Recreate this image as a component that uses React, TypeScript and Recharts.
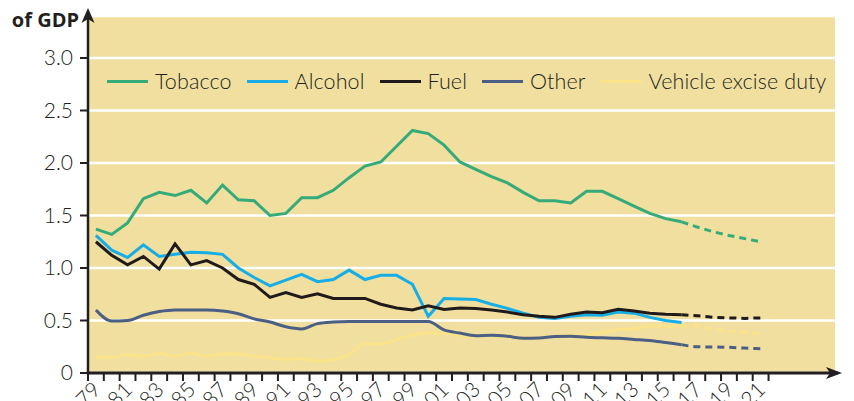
import { CartesianGrid, Legend, Line, LineChart, XAxis, YAxis } from "recharts";

// Fiscal years by starting calendar year (1978 = 1978–79)
const years = [
  1978, 1979, 1980, 1981, 1982, 1983, 1984, 1985, 1986, 1987, 1988, 1989, 1990, 1991, 1992,
  1993, 1994, 1995, 1996, 1997, 1998, 1999, 2000, 2001, 2002, 2003, 2004, 2005, 2006, 2007,
  2008, 2009, 2010, 2011, 2012, 2013, 2014, 2015, 2016, 2017, 2018, 2019, 2020,
];

// Outturns, 1978–79 to 2015–16 (% of GDP)
const tobacco = [
  1.37, 1.32, 1.43, 1.66, 1.72, 1.69, 1.74, 1.62, 1.79, 1.65, 1.64, 1.5, 1.52, 1.67, 1.67, 1.74,
  1.86, 1.97, 2.01, 2.16, 2.31, 2.28, 2.17, 2.01, 1.94, 1.87, 1.81, 1.72, 1.64, 1.64, 1.62, 1.73,
  1.73, 1.66, 1.59, 1.52, 1.47, 1.44,
];
const alcohol = [
  1.31, 1.17, 1.1, 1.22, 1.11, 1.13, 1.15, 1.145, 1.13, 1.0, 0.91, 0.83, 0.885, 0.94, 0.87, 0.89,
  0.98, 0.89, 0.93, 0.93, 0.845, 0.54, 0.71, 0.705, 0.7, 0.655, 0.615, 0.57, 0.53, 0.52, 0.54,
  0.555, 0.55, 0.58, 0.57, 0.53, 0.5, 0.48,
];
const fuel = [
  1.25, 1.12, 1.03, 1.11, 0.99, 1.23, 1.03, 1.07, 1.0, 0.89, 0.845, 0.72, 0.765, 0.72, 0.755, 0.71,
  0.71, 0.71, 0.655, 0.62, 0.6, 0.64, 0.605, 0.62, 0.615, 0.6, 0.58, 0.555, 0.54, 0.53, 0.56, 0.58,
  0.575, 0.607, 0.59, 0.57, 0.56, 0.555,
];
const other = [
  0.6, 0.495, 0.5, 0.55, 0.585, 0.6, 0.6, 0.6, 0.59, 0.565, 0.515, 0.485, 0.44, 0.42, 0.47, 0.485,
  0.49, 0.49, 0.49, 0.49, 0.49, 0.49, 0.41, 0.38, 0.355, 0.36, 0.35, 0.33, 0.333, 0.347, 0.35,
  0.34, 0.335, 0.33, 0.32, 0.31, 0.29, 0.27,
];
const vehicleDuty = [
  0.15, 0.15, 0.175, 0.16, 0.185, 0.16, 0.19, 0.16, 0.18, 0.18, 0.16, 0.145, 0.13, 0.137, 0.115,
  0.127, 0.175, 0.28, 0.275, 0.32, 0.36, 0.38, 0.378, 0.36, 0.35, 0.358, 0.35, 0.335, 0.337, 0.35,
  0.36, 0.365, 0.385, 0.415, 0.42, 0.445, 0.445, 0.448,
];

// Forecasts, 2015–16 to 2020–21
const projectionFrom = 2015;
const tobaccoForecast = [1.44, 1.39, 1.345, 1.31, 1.28, 1.25];
const fuelForecast = [0.555, 0.545, 0.53, 0.525, 0.52, 0.525];
const otherForecast = [0.27, 0.25, 0.248, 0.245, 0.237, 0.232];
const vehicleForecast = [0.448, 0.447, 0.42, 0.4, 0.385, 0.375];

const yTicks = [0, 0.5, 1, 1.5, 2, 2.5, 3];

const W = 846;
const H = 393;
const MARGIN = { top: 8, right: 19, bottom: 0, left: 0 };
const Y_AXIS_W = 80;
const X_AXIS_H = 28;
const X_DOMAIN: [number, number] = [1977.5, 2024.7];
const STEP = (W - MARGIN.right - Y_AXIS_W) / (X_DOMAIN[1] - X_DOMAIN[0]);

const INK = "#231F20";
const PLOT_BG = "#F0DF9F";
const FONT = "Lato, 'Open Sans', sans-serif";

type Series = {
  key: string;
  name: string;
  color: string;
  curve: "linear" | "monotone";
  values: number[];
  forecast?: number[];
};

// drawing order: first is bottom-most
const series: Series[] = [
  { key: "vehicle", name: "Vehicle excise duty", color: "#FBE389", curve: "monotone", values: vehicleDuty, forecast: vehicleForecast },
  { key: "other", name: "Other", color: "#4B5F85", curve: "monotone", values: other, forecast: otherForecast },
  { key: "alcohol", name: "Alcohol", color: "#17ADE6", curve: "linear", values: alcohol },
  { key: "fuel", name: "Fuel", color: "#201B1A", curve: "linear", values: fuel, forecast: fuelForecast },
  { key: "tobacco", name: "Tobacco", color: "#36AB7A", curve: "linear", values: tobacco, forecast: tobaccoForecast },
];
const legendOrder = ["Tobacco", "Alcohol", "Fuel", "Other", "Vehicle excise duty"];

const projStart = years.indexOf(projectionFrom);
const rows = years.map((year, i) => {
  const row: Record<string, number | undefined> = { year };
  for (const s of series) {
    row[s.key] = s.values[i];
    if (s.forecast && i >= projStart) row[s.key + "Fc"] = s.forecast[i - projStart];
  }
  return row;
});

// tick marks sit between fiscal years
const xTicks = [...years.map((y) => y - 0.5), years[years.length - 1] + 0.5];

const fiscalLabel = (y: number) => `${y}–${String((y + 1) % 100).padStart(2, "0")}`;

function YearTick(props: any) {
  const { x, y, payload } = props;
  const start = payload.value + 0.5;
  if (start % 2 !== 0 || start > years[years.length - 1]) return <g />;
  const ax = x + STEP / 2 + 6;
  const ay = y + 8;
  return (
    <text
      x={ax}
      y={ay}
      transform={`rotate(-45 ${ax} ${ay})`}
      textAnchor="end"
      fontFamily={FONT}
      fontWeight={300}
      fontSize={21}
      fill={INK}
    >
      {fiscalLabel(start)}
    </text>
  );
}

function LegendRow({ payload }: any) {
  const items = [...(payload ?? [])]
    .filter((p: any) => legendOrder.includes(p.value))
    .sort((a: any, b: any) => legendOrder.indexOf(a.value) - legendOrder.indexOf(b.value));
  return (
    <div
      style={{
        display: "flex",
        alignItems: "center",
        fontFamily: FONT,
        fontWeight: 300,
        fontSize: 21.5,
        letterSpacing: 0.1,
        color: INK,
        whiteSpace: "nowrap",
      }}
    >
      {items.map((p: any) => (
        <div key={p.value} style={{ display: "flex", alignItems: "center", marginRight: 15 }}>
          <div style={{ width: 41, height: 3, background: p.color }} />
          <span style={{ marginLeft: 7, lineHeight: "24px" }}>{p.value}</span>
        </div>
      ))}
    </div>
  );
}

// axis arrowheads and the unit label above the value axis
function AxisDecor() {
  const x0 = Y_AXIS_W;
  const y0 = H - MARGIN.bottom - X_AXIS_H;
  const xEnd = W - MARGIN.right;
  return (
    <svg width={W} height={H} style={{ position: "absolute", left: 0, top: 0, pointerEvents: "none" }}>
      <line x1={x0} x2={x0} y1={MARGIN.top + 1} y2={5} stroke={INK} strokeWidth={2.5} />
      <polygon points={`${x0},0 ${x0 + 6.5},15 ${x0},11 ${x0 - 6.5},15`} fill={INK} />
      <line x1={xEnd - 1} x2={xEnd + 3} y1={y0} y2={y0} stroke={INK} strokeWidth={3} />
      <polygon points={`${xEnd + 7},${y0} ${xEnd - 9},${y0 - 6} ${xEnd - 5},${y0} ${xEnd - 9},${y0 + 6}`} fill={INK} />
      <text x={71} y={19} textAnchor="end" fontFamily="'Open Sans', sans-serif" fontWeight={700} fontSize={20} fill={INK}>
        of GDP
      </text>
    </svg>
  );
}

export default function App() {
  return (
    <div style={{ position: "relative", width: W, height: H }}>
      <LineChart width={W} height={H} data={rows} margin={MARGIN}>
        <CartesianGrid horizontal vertical={false} stroke="#FFFFFF" strokeWidth={2.5} fill={PLOT_BG} fillOpacity={1} />
        <XAxis
          type="number"
          dataKey="year"
          domain={X_DOMAIN}
          ticks={xTicks}
          interval={0}
          height={X_AXIS_H}
          axisLine={{ stroke: INK, strokeWidth: 3 }}
          tickLine={{ stroke: INK, strokeWidth: 2 }}
          tickSize={8}
          tick={<YearTick />}
        />
        <YAxis
          domain={[0, 3.4]}
          ticks={yTicks}
          width={Y_AXIS_W}
          axisLine={{ stroke: INK, strokeWidth: 2.5 }}
          tickLine={{ stroke: INK, strokeWidth: 2 }}
          tickSize={8}
          tickMargin={7}
          tick={{ fill: INK, fontSize: 21, fontFamily: FONT, fontWeight: 300 }}
          tickFormatter={(v: number) => (v === 0 ? "0" : v.toFixed(1))}
        />
        <Legend
          layout="horizontal"
          verticalAlign="middle"
          align="center"
          wrapperStyle={{ position: "absolute", top: 61, left: 99, width: "auto" }}
          content={<LegendRow />}
        />
        {series.map((s) => (
          <Line
            key={s.key}
            type={s.curve}
            dataKey={s.key}
            name={s.name}
            stroke={s.color}
            strokeWidth={3}
            dot={false}
            activeDot={false}
            isAnimationActive={false}
          />
        ))}
        {series
          .filter((s) => s.forecast)
          .map((s) => (
            <Line
              key={s.key + "Fc"}
              type={s.curve}
              dataKey={s.key + "Fc"}
              name={s.name + " forecast"}
              legendType="none"
              stroke={s.color}
              strokeWidth={3}
              strokeDasharray="7 5"
              dot={false}
              activeDot={false}
              isAnimationActive={false}
            />
          ))}
      </LineChart>
      <AxisDecor />
    </div>
  );
}
